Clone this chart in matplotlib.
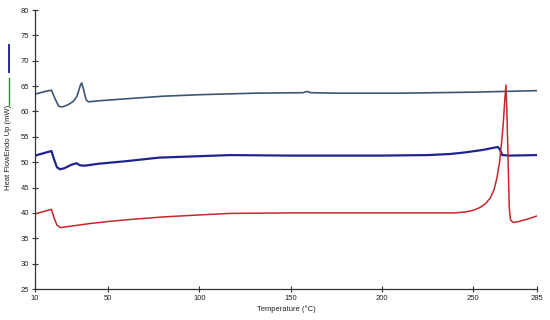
import matplotlib
matplotlib.use("Agg")
import matplotlib.pyplot as plt
from matplotlib.lines import Line2D

plt.rcParams['font.family'] = ['Liberation Sans', 'DejaVu Sans']

# top trace (slate)
t_top = [10, 12, 15, 19, 21, 23, 25, 28, 31, 33, 35, 35.6, 36.5, 38, 39.2, 45, 60, 80,
         100, 130, 157, 159, 161, 175, 210, 250, 285]
hf_top = [63.4, 63.6, 63.9, 64.2, 62.5, 61.0, 60.9, 61.3, 62.0, 63.0, 65.3, 65.6, 64.5,
          62.3, 61.9, 62.1, 62.5, 63.0, 63.3, 63.6, 63.7, 63.95, 63.7, 63.6, 63.6, 63.8, 64.1]

# middle trace (navy)
t_mid = [10, 15, 19, 20.5, 22, 23.7, 26, 30, 32.8, 34.5, 37, 45, 60, 78, 117, 150, 200,
         225, 237, 245, 255, 263.5, 264.5, 266, 270, 285]
hf_mid = [51.3, 51.8, 52.2, 50.5, 49.0, 48.6, 48.8, 49.5, 49.8, 49.4, 49.3, 49.7, 50.2,
          50.9, 51.4, 51.3, 51.3, 51.4, 51.6, 51.9, 52.4, 53.0, 52.6, 51.4, 51.3, 51.4]

# bottom trace (red)
t_bot = [10, 15, 19, 20.5, 22, 24, 30, 40, 50, 62, 80, 100, 117, 150, 200, 240, 246,
         250, 254, 257, 259.5, 261.5, 263, 264.5, 265.5, 266.5, 267.3, 268, 268.5, 269.2,
         269.8, 270.5, 272, 275, 280, 285]
hf_bot = [39.8, 40.3, 40.7, 39.0, 37.6, 37.1, 37.4, 37.9, 38.3, 38.7, 39.2, 39.6, 39.9,
          40.0, 40.0, 40.0, 40.2, 40.5, 41.1, 41.9, 43.0, 44.6, 46.8, 50.0, 53.5, 57.5,
          62.0, 65.2, 60.0, 50.0, 41.0, 38.6, 38.1, 38.3, 38.8, 39.4]

xticks = [10, 50, 100, 150, 200, 250, 285]
yticks = list(range(25, 81, 5))

fig = plt.figure(figsize=(5.5, 3.2), dpi=100)
ax = fig.add_axes([35/550, 31/320, 502/550, 279/320])

ax.plot(t_top, hf_top, color='#3d5675', lw=1.2)
ax.plot(t_mid, hf_mid, color='#1f2590', lw=1.6)
ax.plot(t_bot, hf_bot, color='#c8262b', lw=1.1)

ax.set_xlim(10, 285)
ax.set_ylim(25, 80)
ax.set_xticks(xticks)
ax.set_yticks(yticks)
ax.spines['top'].set_visible(False)
ax.spines['right'].set_visible(False)
for s in ['left', 'bottom']:
    ax.spines[s].set_linewidth(0.9)
    ax.spines[s].set_color('#333333')
ax.tick_params(direction='inout', length=4, width=0.8, labelsize=5.5, pad=2,
               colors='#333333', labelcolor='#222222')

fig.text(286/550, 1 - 309/320, 'Temperature (°C)', ha='center', va='center',
         fontsize=5.5, color='#222222')
fig.text(9/550, 1 - 147/320, 'Heat FlowEndo Up (mW)', ha='center', va='center',
         rotation=90, fontsize=5.5, color='#222222')

# legend handles drawn vertically beside the y label
fig.add_artist(Line2D([9/550, 9/550], [1 - 45/320, 1 - 72/320], color='#2a2a9c', lw=1.4))
fig.add_artist(Line2D([9/550, 9/550], [1 - 78/320, 1 - 105/320], color='#2f8a3a', lw=1.0))

fig.savefig('out.png', dpi=100)
